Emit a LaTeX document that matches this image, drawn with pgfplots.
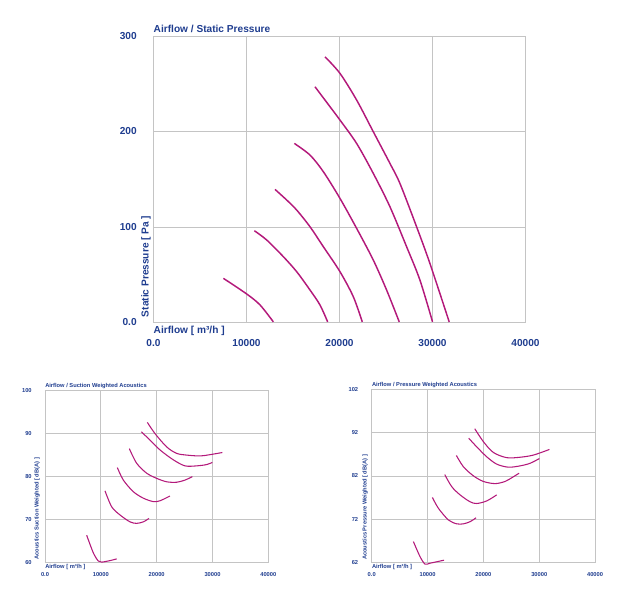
\documentclass[border=0pt]{standalone}
\usepackage{fontspec}
\setmainfont{Liberation Sans}
\usepackage{pgfplots}
\pgfplotsset{compat=1.18}
\definecolor{txt}{HTML}{1F3D8F}
\definecolor{crv}{HTML}{B3197A}
\definecolor{grd}{HTML}{C4C4C4}
\pgfplotsset{
  fanbase/.style={
    scale only axis, clip=false,
    axis line style={grd},
    grid=major, major grid style={grd, line width=0.5pt},
    tick style={draw=none},
    xmin=0, xmax=40000,
    xtick={0,10000,20000,30000,40000},
    xticklabels={0.0,10000,20000,30000,40000},
    scaled x ticks=false,
    /pgf/number format/assume math mode=true,
    tick label style={text=txt},
    label style={text=txt},
    title style={text=txt},
  }
}
\begin{document}
\begin{tikzpicture}
\useasboundingbox (0,0) rectangle (477pt,450.75pt);
% ---------------- top chart ----------------
\begin{axis}[fanbase,
  at={(115.1pt,209.0pt)}, anchor=south west,
  width=279pt, height=214.7pt,
  ymin=0, ymax=300,
  ytick={0,100,200,300}, yticklabels={0.0,100,200,300},
  tick label style={font=\fontsize{7.6}{8}\selectfont\bfseries},
  xticklabel style={anchor=center, yshift=-15.3pt},
  yticklabel style={anchor=east, inner sep=0pt, xshift=-12.4pt},
  every axis title/.style={at={(axis description cs:0,1.0245)}, anchor=west, inner sep=0pt,
    font=\fontsize{7.6}{8}\selectfont\bfseries, text=txt},
  title={Airflow / Static Pressure},
  every axis x label/.style={at={(axis description cs:0,-0.029)}, anchor=west, inner sep=0pt,
    font=\fontsize{7.6}{8}\selectfont\bfseries, text=txt},
  xlabel={Airflow [ m³/h ]},
  every axis y label/.style={at={(axis description cs:-0.0067,0.0175)}, rotate=90, anchor=south west, inner sep=0pt,
    font=\fontsize{7.6}{8}\selectfont\bfseries, text=txt},
  ylabel={Static Pressure [ Pa ]},
]
\addplot[crv, line width=1.1pt, smooth] coordinates {(7520,46.1) (10027,29.7) (11460,18.2) (12890,0.5)};
\addplot[crv, line width=1.1pt, smooth] coordinates {(10850,96.0) (12175,86.3) (13966,68.8) (15398,53.1) (16830,33.9) (17905,18.2) (18729,0.5)};
\addplot[crv, line width=1.1pt, smooth] coordinates {(13071,139.3) (14324,128.2) (15398,117.7) (16830,100.2) (18263,79.3) (20054,53.1) (21486,26.9) (22453,0.5)};
\addplot[crv, line width=1.1pt, smooth] coordinates {(15148,187.5) (16830,175.3) (18263,157.9) (20054,129.9) (21844,98.5) (23635,65.3) (25067,33.9) (26428,0.5)};
\addplot[crv, line width=1.1pt, smooth] coordinates {(17368,246.9) (18980,226.0) (20054,212.0) (21844,187.5) (23635,156.1) (25425,121.2) (27216,79.3) (28648,44.4) (30008,0.5)};
\addplot[crv, line width=1.1pt, smooth] coordinates {(18443,278.3) (20054,260.9) (21844,233.0) (23635,199.8) (25425,166.6) (26500,145.6) (28290,100.2) (29723,61.8) (31800,0.5)};
\end{axis}
% ---------------- bottom left ----------------
\begin{axis}[fanbase,
  at={(33.75pt,29.0pt)}, anchor=south west,
  width=167.5pt, height=129.2pt,
  ymin=60, ymax=100,
  ytick={60,70,80,90,100},
  tick label style={font=\fontsize{4.3}{5}\selectfont\bfseries},
  xticklabel style={anchor=center, yshift=-9pt},
  yticklabel style={anchor=east, inner sep=0pt, xshift=-9.8pt},
  every axis title/.style={at={(axis description cs:0,1.025)}, anchor=west, inner sep=0pt,
    font=\fontsize{4.3}{5}\selectfont\bfseries, text=txt},
  title={Airflow / Suction Weighted Acoustics},
  every axis x label/.style={at={(axis description cs:0,-0.027)}, anchor=west, inner sep=0pt,
    font=\fontsize{4.3}{5}\selectfont\bfseries, text=txt},
  xlabel={Airflow [ m³/h ]},
  every axis y label/.style={at={(axis description cs:-0.022,0.015)}, rotate=90, anchor=south west, inner sep=0pt,
    font=\fontsize{4.3}{5}\selectfont\bfseries, text=txt},
  ylabel={Acoustics Suction Weighted [ dB(A) ]},
]
\addplot[crv, line width=0.8pt, smooth] coordinates {(7463,66.3) (8657,62.2) (9552,60.3) (10149,60.05) (11642,60.4) (12836,60.8)};
\addplot[crv, line width=0.8pt, smooth] coordinates {(10746,76.6) (11940,72.9) (13433,71.0) (15224,69.4) (16418,69.05) (17612,69.4) (18627,70.2)};
\addplot[crv, line width=0.8pt, smooth] coordinates {(12955,82.0) (14030,79.1) (15821,76.4) (17612,74.9) (19403,74.1) (20597,74.3) (22388,75.4)};
\addplot[crv, line width=0.8pt, smooth] coordinates {(15104,86.4) (16418,83.0) (18209,80.7) (20000,79.5) (21791,78.7) (23582,78.6) (25075,79.1) (26388,79.9)};
\addplot[crv, line width=0.8pt, smooth] coordinates {(17254,90.3) (18806,88.4) (20597,86.1) (22985,83.8) (25075,82.4) (27164,82.4) (28955,82.7) (29970,83.2)};
\addplot[crv, line width=0.8pt, smooth] coordinates {(18328,92.5) (19701,89.9) (21791,86.8) (23582,85.3) (25373,84.9) (27761,84.7) (29552,85.0) (31761,85.5)};
\end{axis}
% ---------------- bottom right ----------------
\begin{axis}[fanbase,
  at={(278.8pt,29.0pt)}, anchor=south west,
  width=167.5pt, height=129.75pt,
  ymin=62, ymax=102,
  ytick={62,72,82,92,102},
  tick label style={font=\fontsize{4.3}{5}\selectfont\bfseries},
  xticklabel style={anchor=center, yshift=-9pt},
  yticklabel style={anchor=east, inner sep=0pt, xshift=-10pt},
  every axis title/.style={at={(axis description cs:0,1.025)}, anchor=west, inner sep=0pt,
    font=\fontsize{4.3}{5}\selectfont\bfseries, text=txt},
  title={Airflow / Pressure Weighted Acoustics},
  every axis x label/.style={at={(axis description cs:0,-0.027)}, anchor=west, inner sep=0pt,
    font=\fontsize{4.3}{5}\selectfont\bfseries, text=txt},
  xlabel={Airflow [ m³/h ]},
  every axis y label/.style={at={(axis description cs:-0.016,0.012)}, rotate=90, anchor=south west, inner sep=0pt,
    font=\fontsize{4.3}{5}\selectfont\bfseries, text=txt},
  ylabel={Acoustics Pressure Weighted [ dB(A) ]},
]
\addplot[crv, line width=0.8pt, smooth] coordinates {(7463,66.8) (8657,63.3) (9552,61.6) (10448,61.8) (12955,62.5)};
\addplot[crv, line width=0.8pt, smooth] coordinates {(10866,77.0) (11940,74.5) (13731,71.8) (15224,70.9) (16418,70.9) (17612,71.4) (18687,72.3)};
\addplot[crv, line width=0.8pt, smooth] coordinates {(13075,82.3) (14328,79.5) (15821,77.6) (17612,76.0) (18806,75.6) (20597,76.2) (22388,77.6)};
\addplot[crv, line width=0.8pt, smooth] coordinates {(15164,86.7) (16418,84.1) (18209,82.0) (20000,80.7) (22090,80.2) (23881,80.7) (25254,81.7) (26388,82.6)};
\addplot[crv, line width=0.8pt, smooth] coordinates {(17373,90.7) (18806,88.7) (20597,86.4) (22388,84.7) (24478,84.0) (26567,84.3) (28358,84.9) (30030,86.0)};
\addplot[crv, line width=0.8pt, smooth] coordinates {(18448,92.9) (20000,89.9) (21791,87.4) (24179,86.2) (26567,86.3) (28955,86.8) (31821,88.1)};
\end{axis}
\end{tikzpicture}
\end{document}
